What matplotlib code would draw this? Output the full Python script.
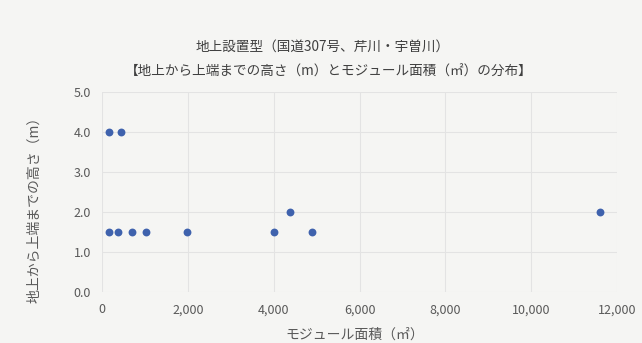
import matplotlib
matplotlib.use('Agg')
import matplotlib.pyplot as plt
from matplotlib.ticker import FuncFormatter

plt.rcParams['font.family'] = ['Noto Sans CJK JP', 'DejaVu Sans']

# module area (m2) and height to top edge (m)
area = [150, 360, 690, 1030, 1980, 4000, 4900, 4370, 11600, 150, 440]
height = [1.5, 1.5, 1.5, 1.5, 1.5, 1.5, 1.5, 2.0, 2.0, 4.0, 4.0]

title1 = '地上設置型（国道307号、芹川・宇曽川）'
title2 = '【地上から上端までの高さ（m）とモジュール面積（㎡）の分布】'
xlab = 'モジュール面積（㎡）'
ylab = '地上から上端までの高さ（m）'

bg = '#f5f5f3'
txt = '#595959'

fig = plt.figure(figsize=(6.42, 3.43), dpi=100, facecolor=bg)
ax = fig.add_axes([0.159, 0.148, 0.802, 0.585], facecolor=bg)

ax.scatter(area, height, s=32, color='#3f62ad', zorder=3, linewidths=0)

ax.set_xlim(0, 12000)
ax.set_ylim(0, 5)
ax.set_xticks(range(0, 12001, 2000))
ax.set_yticks([0, 1, 2, 3, 4, 5])
ax.xaxis.set_major_formatter(FuncFormatter(lambda v, p: '{:,.0f}'.format(v)))
ax.yaxis.set_major_formatter(FuncFormatter(lambda v, p: '{:.1f}'.format(v)))
ax.grid(True, color='#e3e3e3', lw=0.8)
ax.set_axisbelow(True)
for s in ax.spines.values():
    s.set_visible(False)
ax.tick_params(length=0, colors=txt, labelsize=9, pad=8)

# axis titles placed in figure coords
fig.text(0.553, 0.023, xlab, ha='center', va='center', color=txt, fontsize=10)
fig.text(0.054, 0.397, ylab, ha='center', va='center', rotation=90, color=txt, fontsize=10)

fig.text(0.503, 0.865, title1, ha='center', va='center', color='#404040', fontsize=9.8)
fig.text(0.512, 0.79, title2, ha='center', va='center', color='#404040', fontsize=9.8)

fig.savefig('out.png', dpi=100, facecolor=bg)
